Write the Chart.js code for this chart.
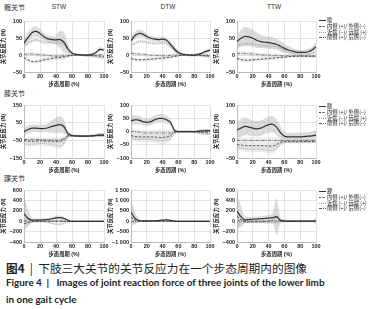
<!DOCTYPE html>
<html>
<head>
<meta charset="utf-8">
<script src="https://cdn.jsdelivr.net/npm/chart.js@4/dist/chart.umd.min.js"></script>
<style>
  body { margin:0; width:384px; height:309px; background:#fff; position:relative; overflow:hidden;
         font-family:'Noto Sans CJK SC', 'Liberation Sans', sans-serif; color:#333; }
  .a { position:absolute; white-space:nowrap; }
  .joint { font-size:7px; }
  .ttl { font-size:6.5px; font-family:'Liberation Sans', sans-serif; transform:translateX(-50%); }
  canvas { position:absolute; }
  .lg { position:absolute; font-size:5.3px; line-height:5.8px; color:#222; }
  .lg svg { vertical-align:middle; margin-right:1px; }
  .cap1 { font-size:11.7px; color:#222; }
  .cap2 { font-family:Lato, sans-serif; font-weight:bold; font-size:9.9px; color:#222; }
</style>
</head>
<body>
<div class="a joint" style="left:4px;top:2px">髋关节</div>
<div class="a ttl" style="left:59px;top:3px">STW</div>
<div class="a ttl" style="left:168px;top:3px">DTW</div>
<div class="a ttl" style="left:274px;top:3px">TTW</div>
<div class="a joint" style="left:4px;top:88px">膝关节</div>
<div class="a joint" style="left:4px;top:173px">踝关节</div>

<canvas id="c1" width="110" height="72" style="left:0px;top:16px"></canvas>
<canvas id="c2" width="109" height="72" style="left:107px;top:16px"></canvas>
<canvas id="c3" width="109" height="72" style="left:213px;top:16px"></canvas>
<canvas id="c4" width="110" height="74" style="left:0px;top:100px"></canvas>
<canvas id="c5" width="109" height="74" style="left:107px;top:100px"></canvas>
<canvas id="c6" width="109" height="74" style="left:213px;top:100px"></canvas>
<canvas id="c7" width="110" height="73" style="left:0px;top:185px"></canvas>
<canvas id="c8" width="109" height="73" style="left:107px;top:185px"></canvas>
<canvas id="c9" width="109" height="73" style="left:213px;top:185px"></canvas>

<div class="lg" id="lg1" style="left:319px;top:18px"></div>
<div class="lg" id="lg2" style="left:319px;top:104px"></div>
<div class="lg" id="lg3" style="left:319px;top:189px"></div>

<div class="a cap1" style="left:6px;top:259px"><b>图4</b>&nbsp;&nbsp;|&nbsp;&nbsp;下肢三大关节的关节反应力在一个步态周期内的图像</div>
<div class="a cap2" style="left:6px;top:276px">Figure 4&nbsp;&nbsp;|&nbsp;&nbsp;&nbsp;Images of joint reaction force of three joints of the lower limb</div>
<div class="a cap2" style="left:6px;top:293px">in one gait cycle</div>

<script>
// gait cycle (%) sample points
const cycle = [0,5,10,15,20,25,30,35,40,45,50,55,60,65,70,75,80,85,90,95,100];
const legendNames = ['内侧 (+)/ 外侧(−)', '近端 (−)/ 远端 (+)', '前侧 (+)/ 后侧(−)'];
const jointNames = ['髋', '膝', '踝'];

// hip, STW
const hipStwTotal = [35,52,66,70,64,54,48,46,45,46,38,18,6,2,1,0,0,2,8,17,15];
const hipStwSd    = [12,14,15,15,13,11,10,10,14,25,30,14,5,3,3,3,3,4,5,6,5];
const hipStwMl    = [-8,-14,-19,-19,-17,-14,-12,-10,-8,-7,-5,-3,-1,0,0,0,0,-1,-2,-3,-4];
const hipStwPd    = [28,35,42,45,42,38,37,37,36,38,32,15,3,0,-1,-2,-3,-4,-5,-7,-8];
const hipStwAp    = [2,3,3,2,1,0,-1,-2,-3,-3,-2,-1,0,0,0,0,0,0,0,1,1];
const hipStwSd2   = [5,6,6,6,6,6,6,6,7,8,8,5,3,2,2,2,2,3,3,4,4];
// hip, DTW
const hipDtwTotal = [42,58,64,62,55,50,47,46,47,44,32,18,8,3,1,0,0,2,6,11,14];
const hipDtwSd    = [10,11,11,10,8,7,7,7,8,8,8,8,5,3,3,3,3,4,5,6,6];
const hipDtwMl    = [-10,-13,-14,-14,-13,-12,-11,-10,-9,-8,-6,-4,-2,0,0,0,0,0,-1,-2,-3];
const hipDtwPd    = [28,35,40,40,38,36,35,35,36,34,25,12,3,0,-1,-2,-2,-2,-3,-4,-5];
const hipDtwAp    = [5,4,3,2,1,0,-1,-1,-2,-2,-1,0,0,0,0,0,0,0,0,0,0];
const hipDtwSd2   = [5,5,5,5,5,5,5,5,5,5,5,4,3,2,2,2,2,2,3,3,3];
// hip, TTW
const hipTtwTotal = [40,50,55,54,50,44,40,38,37,35,32,26,20,15,12,9,8,8,10,15,25];
const hipTtwSd    = [20,25,28,27,25,22,20,18,18,17,16,15,13,12,10,8,7,7,8,10,12];
const hipTtwMl    = [-10,-13,-15,-15,-14,-13,-12,-11,-10,-9,-8,-7,-6,-5,-4,-4,-3,-3,-3,-3,-3];
const hipTtwPd    = [28,31,33,33,32,30,29,28,27,26,25,20,15,10,6,3,1,0,2,4,8];
const hipTtwAp    = [5,5,5,4,3,2,1,0,0,-1,-1,-2,-2,-2,-2,-2,-2,-3,-3,-3,-3];
const hipTtwSd2   = [6,6,6,6,6,6,6,6,6,6,6,5,5,4,4,4,4,4,4,4,4];

// knee, STW
const kneeStwTotal = [0,12,20,20,18,18,22,30,36,40,28,-12,-22,-24,-25,-25,-25,-24,-22,-20,-20];
const kneeStwSd    = [22,22,22,22,22,22,25,35,45,48,40,15,8,6,6,6,6,8,10,12,12];
const kneeStwMl    = [-50,-54,-55,-53,-52,-52,-53,-54,-55,-55,-45,-25,-24,-25,-25,-25,-25,-24,-22,-20,-20];
const kneeStwPd    = [-70,-72,-72,-70,-68,-68,-70,-72,-78,-80,-65,-30,-26,-26,-26,-26,-26,-25,-23,-21,-21];
const kneeStwAp    = [-45,-45,-44,-44,-45,-47,-48,-48,-48,-48,-40,-22,-23,-24,-24,-24,-24,-23,-21,-19,-19];
const kneeStwSd2   = [12,12,12,12,12,12,12,14,16,16,14,8,5,5,5,5,5,6,8,10,10];
// knee, DTW
const kneeDtwTotal = [42,45,44,38,35,38,45,50,50,45,35,5,0,0,0,0,0,2,3,4,4];
const kneeDtwSd    = [18,18,16,14,13,14,15,16,16,15,12,8,5,4,4,4,4,5,6,6,6];
const kneeDtwMl    = [-15,-18,-20,-20,-20,-20,-20,-22,-22,-20,-15,-3,0,0,0,0,0,-2,-3,-4,-5];
const kneeDtwPd    = [-25,-28,-30,-30,-30,-30,-32,-35,-35,-32,-25,-5,0,0,0,0,-2,-5,-8,-10,-10];
const kneeDtwAp    = [0,0,-2,-5,-5,-5,-5,-5,-5,-5,-5,0,0,0,0,0,0,0,0,0,0];
const kneeDtwSd2   = [10,10,10,10,10,10,10,12,12,12,10,5,3,3,3,3,3,3,4,4,4];
// knee, TTW
const kneeTtwTotal = [30,35,40,38,35,33,35,40,45,46,38,22,12,10,10,10,10,11,12,13,15];
const kneeTtwSd    = [25,25,25,24,22,22,22,22,23,23,22,18,12,12,12,12,12,12,12,13,14];
const kneeTtwMl    = [-12,-13,-14,-15,-15,-15,-15,-15,-16,-16,-12,-5,-3,-3,-3,-3,-3,-3,-3,-3,-3];
const kneeTtwPd    = [-20,-22,-24,-25,-25,-25,-25,-26,-28,-28,-22,-10,-6,-5,-5,-5,-5,-5,-5,-5,-5];
const kneeTtwAp    = [0,0,0,0,0,0,0,0,0,0,0,0,0,0,0,0,0,0,0,0,0];
const kneeTtwSd2   = [8,8,8,8,8,8,8,8,9,9,8,6,4,4,4,4,4,4,4,4,4];

// ankle, STW
const ankleStwTotal = [150,60,25,25,25,30,35,50,65,70,55,20,0,0,0,0,0,0,0,0,0];
const ankleStwSd    = [320,160,40,30,30,30,30,35,40,40,35,20,10,8,8,8,8,8,8,8,8];
const ankleStwMl    = [-50,-20,-5,0,0,0,0,0,0,0,0,0,0,0,0,0,0,0,0,0,0];
const ankleStwPd    = [20,-20,-15,-10,-10,-10,-20,-40,-55,-55,-40,-15,0,0,0,0,0,0,0,0,0];
const ankleStwAp    = [0,30,10,5,5,5,5,5,5,5,5,0,0,0,0,0,0,0,0,0,0];
const ankleStwSd2   = [100,60,20,15,15,15,15,15,20,20,20,10,5,5,5,5,5,5,5,5,5];
// ankle, DTW
const ankleDtwTotal = [450,150,40,20,20,20,20,40,60,70,50,10,0,0,0,0,0,0,0,0,0];
const ankleDtwSd    = [600,300,60,30,30,30,30,40,50,60,50,20,15,15,15,15,15,15,15,15,40];
const ankleDtwMl    = [200,60,10,0,0,0,0,0,0,0,0,0,0,0,0,0,0,0,0,0,0];
const ankleDtwPd    = [-50,-20,0,0,0,0,0,0,0,0,0,0,0,0,0,0,0,0,0,0,0];
const ankleDtwAp    = [0,0,0,0,0,0,0,0,0,0,0,0,0,0,0,0,0,0,0,0,0];
const ankleDtwSd2   = [150,80,20,10,10,10,10,10,10,10,10,10,10,10,10,10,10,10,10,10,10];
// ankle, TTW
const ankleTtwTotal = [200,90,30,35,40,45,50,55,60,70,90,20,10,5,5,5,5,5,5,5,5];
const ankleTtwSd    = [350,200,60,50,50,50,50,55,60,80,350,60,30,25,25,25,25,25,25,25,60];
const ankleTtwMl    = [100,30,-10,-10,-10,-10,-10,-5,0,20,100,0,0,0,0,0,0,0,0,0,0];
const ankleTtwPd    = [-40,-20,-20,-20,-20,-20,-20,-25,-30,-30,-20,-5,0,0,0,0,0,0,0,0,0];
const ankleTtwAp    = [0,20,10,5,5,5,5,5,5,5,5,0,0,0,0,0,0,0,0,0,0];
const ankleTtwSd2   = [100,60,20,15,15,15,15,15,15,20,60,10,5,5,5,5,5,5,5,5,5];

// y axis ranges
const hipY   = [-50, 100, 50];
const kneeY  = [[-150, 150, 50], [-100, 100, 50], [-50, 100, 50]];
const ankleY = [[-400, 600, 200], [-1000, 1500, 500], [-400, 600, 200]];

Chart.defaults.font.family = "'Liberation Sans', 'Noto Sans CJK SC', sans-serif";
Chart.defaults.color = '#222';

function pts(arr) {
  return arr.map((v, i) => ({x: cycle[i], y: v}));
}
function shift(arr, sd, sign) {
  return arr.map((v, i) => ({x: cycle[i], y: v + sign * sd[i]}));
}
function fmt(v) {
  let s = Math.abs(v) >= 1000 ? String(Math.abs(v)).replace(/(\d)(\d{3})$/, '$1 $2') : String(Math.abs(v));
  return (v < 0 ? '−' : '') + s;
}

function makeChart(id, total, sd, ml, pd, ap, sd2, yr) {
  let line = (data, color, dash, w) => ({
    data: pts(data), borderColor: color, borderDash: dash, borderWidth: w,
    pointRadius: 0, tension: 0.3, fill: false
  });
  let band = (data, s, color) => [
    {data: shift(data, s, 1), borderWidth: 0, pointRadius: 0, tension: 0.3, backgroundColor: color, fill: '+1'},
    {data: shift(data, s, -1), borderWidth: 0, pointRadius: 0, tension: 0.3, fill: false}
  ];
  let datasets = [
    line(total, '#333', [], 1.2),
    line(ml, '#444', [2.5, 1.5], 0.9),
    line(ap, '#666', [3, 1.2, 0.8, 1.2], 0.9),
    line(pd, '#aaa', [1, 1], 1.1),
    ...band(ml, sd2, 'rgba(200,200,200,0.35)'),
    ...band(pd, sd2, 'rgba(200,200,200,0.35)'),
    ...band(ap, sd2, 'rgba(200,200,200,0.35)'),
    ...band(total, sd, 'rgba(175,175,175,0.45)')
  ];
  new Chart(document.getElementById(id), {
    type: 'line',
    data: {datasets: datasets},
    options: {
      responsive: false, animation: false, devicePixelRatio: 1,
      layout: {padding: {top: 4, right: 6, left: 0, bottom: 0}},
      plugins: {legend: {display: false}, tooltip: {enabled: false}},
      scales: {
        x: {
          type: 'linear', min: 0, max: 100,
          ticks: {stepSize: 20, maxRotation: 0, autoSkip: false, padding: 1, font: {size: 5.5, weight: 'bold'}},
          grid: {color: '#dcdcdc', lineWidth: 0.8, drawTicks: false},
          border: {color: '#bbb'},
          title: {display: true, text: '步态周期 (%)', padding: {top: 1, bottom: 0}, font: {size: 5.3, weight: 'bold'}},
          afterFit: s => { s.height = 16; }
        },
        y: {
          min: yr[0], max: yr[1],
          ticks: {stepSize: yr[2], padding: 2, font: {size: 5.5, weight: 'bold'}, callback: v => fmt(v)},
          grid: {color: '#dcdcdc', lineWidth: 0.8, drawTicks: false},
          border: {color: '#bbb'},
          title: {display: true, text: '关节反应力 (N)', padding: {top: 0, bottom: 1}, font: {size: 5.3, weight: 'bold'}},
          afterFit: s => { s.width = 24; }
        }
      }
    }
  });
}

makeChart('c1', hipStwTotal, hipStwSd, hipStwMl, hipStwPd, hipStwAp, hipStwSd2, hipY);
makeChart('c2', hipDtwTotal, hipDtwSd, hipDtwMl, hipDtwPd, hipDtwAp, hipDtwSd2, hipY);
makeChart('c3', hipTtwTotal, hipTtwSd, hipTtwMl, hipTtwPd, hipTtwAp, hipTtwSd2, hipY);
makeChart('c4', kneeStwTotal, kneeStwSd, kneeStwMl, kneeStwPd, kneeStwAp, kneeStwSd2, kneeY[0]);
makeChart('c5', kneeDtwTotal, kneeDtwSd, kneeDtwMl, kneeDtwPd, kneeDtwAp, kneeDtwSd2, kneeY[1]);
makeChart('c6', kneeTtwTotal, kneeTtwSd, kneeTtwMl, kneeTtwPd, kneeTtwAp, kneeTtwSd2, kneeY[2]);
makeChart('c7', ankleStwTotal, ankleStwSd, ankleStwMl, ankleStwPd, ankleStwAp, ankleStwSd2, ankleY[0]);
makeChart('c8', ankleDtwTotal, ankleDtwSd, ankleDtwMl, ankleDtwPd, ankleDtwAp, ankleDtwSd2, ankleY[1]);
makeChart('c9', ankleTtwTotal, ankleTtwSd, ankleTtwMl, ankleTtwPd, ankleTtwAp, ankleTtwSd2, ankleY[2]);

// html legends, one per row
function sample(color, dash) {
  return '<svg width="7" height="3"><line x1="0" y1="1.5" x2="7" y2="1.5" stroke="' + color +
    '" stroke-width="1" stroke-dasharray="' + dash + '"/></svg>';
}
function fillLegend(id, joint) {
  let el = document.getElementById(id);
  el.innerHTML =
    '<div>' + sample('#333', '') + joint + '</div>' +
    '<div>' + sample('#444', '2,1.5') + legendNames[0] + '</div>' +
    '<div>' + sample('#999', '1,1') + legendNames[1] + '</div>' +
    '<div>' + sample('#555', '3,1,1,1') + legendNames[2] + '</div>';
}
fillLegend('lg1', jointNames[0]);
fillLegend('lg2', jointNames[1]);
fillLegend('lg3', jointNames[2]);
</script>
</body>
</html>
